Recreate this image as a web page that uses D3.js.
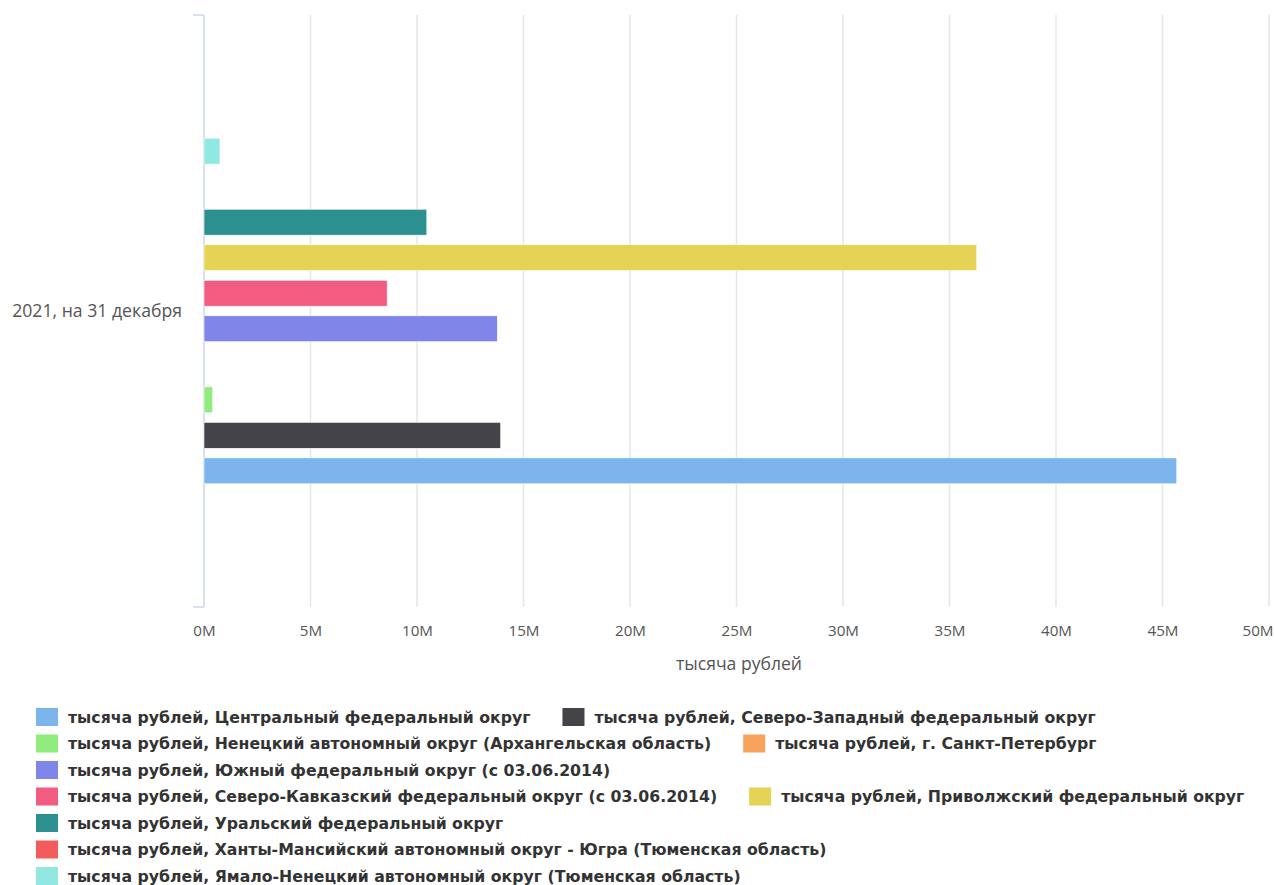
<!DOCTYPE html>
<html><head><meta charset="utf-8">
<script src="https://cdn.jsdelivr.net/npm/d3@7"></script>
<style>
html,body{margin:0;padding:0;background:#fff;}
svg{display:block;}
</style></head>
<body>
<svg id="chart" width="1275" height="885"></svg>
<script>
const categories = ["2021, на 31 декабря"];
const seriesNames = [
  "тысяча рублей, Центральный федеральный округ",
  "тысяча рублей, Северо-Западный федеральный округ",
  "тысяча рублей, Ненецкий автономный округ (Архангельская область)",
  "тысяча рублей, г. Санкт-Петербург",
  "тысяча рублей, Южный федеральный округ (с 03.06.2014)",
  "тысяча рублей, Северо-Кавказский федеральный округ (с 03.06.2014)",
  "тысяча рублей, Приволжский федеральный округ",
  "тысяча рублей, Уральский федеральный округ",
  "тысяча рублей, Ханты-Мансийский автономный округ - Югра (Тюменская область)",
  "тысяча рублей, Ямало-Ненецкий автономный округ (Тюменская область)"
];
const seriesValues = [45670000, 13930000, 410000, 0, 13770000, 8600000, 36280000, 10460000, 0, 750000];
const seriesColors = ["#7cb5ec","#434348","#90ed7d","#f7a35c","#8085e9","#f15c80","#e4d354","#2b908f","#f45b5b","#91e8e1"];
const xTicks = [0,5e6,10e6,15e6,20e6,25e6,30e6,35e6,40e6,45e6,50e6];
const xTitle = "тысяча рублей";

(function(){
const svg = d3.select("#chart");
const pL = 204, pR = 1269, pT = 15, pB = 607;

// size a font so that a sample string spans a target width
function fitSize(family, weight, sample, target) {
  const t = svg.append("text").attr("font-family", family).attr("font-weight", weight)
    .attr("font-size", 20).text(sample);
  const w = t.node().getComputedTextLength();
  t.remove();
  return 20 * target / w;
}
const axisFont = "Open Sans, sans-serif";
const catSize = fitSize(axisFont, 400, categories[0], 170);
const titleSize = fitSize(axisFont, 400, xTitle, 126);
const tickSize = fitSize(axisFont, 400, "10M", 31);
const legFont = "DejaVu Sans, sans-serif";
const legSize = fitSize(legFont, 700, seriesNames[0], 463);

const x = d3.scaleLinear().domain([0, 50e6]).range([pL, pR]);
const yCat = d3.scaleBand().domain(categories).range([pT, pB]).padding(0);
const bw = yCat.bandwidth();
const idx = d3.range(seriesNames.length);
const yInner = d3.scaleBand().domain(idx.slice().reverse())
  .range([0.2*bw, 0.8*bw]).paddingInner(0.27).paddingOuter(0.135);

// grid
svg.append("g").selectAll("line").data(xTicks.slice(1)).join("line")
  .attr("x1", d => x(d)).attr("x2", d => x(d))
  .attr("y1", pT).attr("y2", pB)
  .attr("stroke", "#e6e6e6").attr("stroke-width", 1.5);

// y axis
svg.append("line").attr("x1", pL).attr("x2", pL).attr("y1", pT).attr("y2", pB)
  .attr("stroke", "#ccd6eb").attr("stroke-width", 1.5);
[pT, pB].forEach(yy => svg.append("line").attr("x1", pL-11).attr("x2", pL)
  .attr("y1", yy).attr("y2", yy).attr("stroke", "#ccd6eb").attr("stroke-width", 1.5));
svg.append("g").selectAll("text").data(categories).join("text")
  .attr("x", 182).attr("y", d => yCat(d) + bw/2 - 1)
  .attr("text-anchor", "end").attr("dominant-baseline", "central")
  .attr("font-family", axisFont).attr("font-size", catSize)
  .attr("fill", "#555").text(d => d);

// bars
svg.append("g").selectAll("rect").data(idx).join("rect")
  .attr("x", x(0))
  .attr("y", i => yCat(categories[0]) + yInner(i))
  .attr("width", i => Math.max(0, x(seriesValues[i]) - x(0)))
  .attr("height", yInner.bandwidth())
  .attr("fill", i => seriesColors[i])
  .attr("stroke", "#fff").attr("stroke-width", 0.6);

// x axis labels
const xAxis = svg.append("g").attr("transform", `translate(0,${pB})`)
  .call(d3.axisBottom(x).tickValues(xTicks).tickSize(0).tickPadding(18)
    .tickFormat(d => (d/1e6) + "M"));
xAxis.select(".domain").remove();
xAxis.selectAll("text").attr("font-family", axisFont).attr("font-size", tickSize)
  .attr("fill", "#555");
xAxis.selectAll(".tick").filter(d => d === 50e6).select("text").attr("text-anchor", "end").attr("dx", 4);

svg.append("text").attr("x", 739).attr("y", 670)
  .attr("text-anchor", "middle").attr("font-family", axisFont)
  .attr("font-size", titleSize).attr("fill", "#555").text(xTitle);

// legend (flow layout)
const legend = svg.append("g");
const symW = 22, symH = 18, gapSym = 10, gapItem = 32, rowH = 26.5, maxRight = 1262;
let lx = 36, ly = 717;
idx.forEach(i => {
  const g = legend.append("g");
  const t = g.append("text").attr("font-family", legFont).attr("font-weight", 700)
    .attr("font-size", legSize).attr("fill", "#333").attr("dominant-baseline", "central")
    .text(seriesNames[i]);
  const w = t.node().getComputedTextLength();
  if (lx > 36 && lx + symW + gapSym + w > maxRight) { lx = 36; ly += rowH; }
  g.insert("rect", "text").attr("x", lx).attr("y", ly - symH/2).attr("width", symW).attr("height", symH)
    .attr("fill", seriesColors[i]);
  t.attr("x", lx + symW + gapSym).attr("y", ly);
  lx += symW + gapSym + w + gapItem;
});
})();
</script>
</body></html>
